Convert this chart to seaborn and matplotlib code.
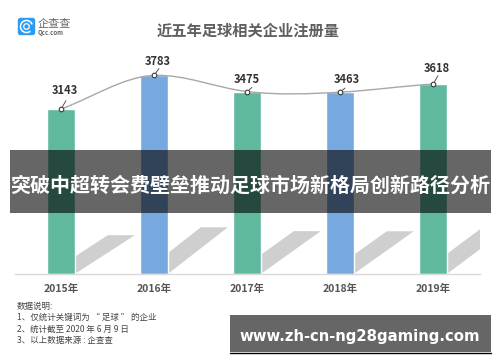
import numpy as np
import pandas as pd
import seaborn as sns
import matplotlib.pyplot as plt
from matplotlib.patches import Arc, Circle, FancyBboxPatch, PathPatch, Polygon, Rectangle
from matplotlib.path import Path

years = ['2015年', '2016年', '2017年', '2018年', '2019年']
counts = [3143, 3783, 3475, 3463, 3618]
bar_colors = ['#60B89E', '#78A8E0', '#60B89E', '#78A8E0', '#60B89E']
# label offset from the point, in pixels
label_dx = [4, 4, 0, 7, 4]
label_dy = [18, 14, 12, 13, 16]
tick_dy = [6, 5, 3, 3, 6]
title = '近五年足球相关企业注册量'
banner = '突破中超转会费壁垒推动足球市场新格局创新路径分析'
site = 'www.zh-cn-ng28gaming.com'
notes = ['数据说明:', '1、仅统计关键词为 “ 足球 ” 的企业', '2、统计截至 2020 年 6 月 9 日', '3、以上数据来源 : 企查查']
note_y = [306, 317, 329, 341]

sns.set_theme(style='white')
plt.rcParams['font.family'] = ['Noto Sans CJK SC', 'DejaVu Sans']

W, H = 500, 362
fig = plt.figure(figsize=(W / 100, H / 100), dpi=100)
# chart axes: baseline at y=274px, x from 15 to 480px
ax = fig.add_axes([14.6 / W, (H - 274) / H, 465 / W, 214 / H])
df = pd.DataFrame({'year': years, 'count': counts})

# slanted shadows behind the bars, scaled from the values
for i, v in enumerate(counts):
    right = i + 0.147
    ax.add_patch(Polygon([(right, 0), (right, v * 0.105), (right + 0.355, v * 0.235),
                          (right + 0.645, v * 0.235)],
                         closed=True, fc='#CFCFCF', ec='none', zorder=1))

sns.barplot(data=df, x='year', y='count', hue='year', palette=bar_colors, width=0.295,
            saturation=1, legend=False, ax=ax, zorder=2)
ax.set_xlim(-0.5, 4.5)
ax.set_ylim(0, 214 / 0.0525)

# smooth line through the bar tops (natural cubic spline as bezier segments)
xs = np.arange(len(counts), dtype=float)
ys = np.array(counts, dtype=float)
n = len(xs)
A = np.zeros((n, n))
b = np.zeros(n)
A[0, 0] = A[-1, -1] = 2
A[0, 1] = A[-1, -2] = 1
b[0] = 3 * (ys[1] - ys[0])
b[-1] = 3 * (ys[-1] - ys[-2])
for i in range(1, n - 1):
    A[i, i - 1:i + 2] = [1, 4, 1]
    b[i] = 3 * (ys[i + 1] - ys[i - 1])
slopes = np.linalg.solve(A, b) * 0.7
verts = [(xs[0], ys[0])]
codes = [Path.MOVETO]
for i in range(n - 1):
    verts += [(xs[i] + 1 / 3, ys[i] + slopes[i] / 3),
              (xs[i + 1] - 1 / 3, ys[i + 1] - slopes[i + 1] / 3),
              (xs[i + 1], ys[i + 1])]
    codes += [Path.CURVE4] * 3
ax.add_patch(PathPatch(Path(verts, codes), fc='none', ec='#A8A8A8', lw=1, zorder=3))

sns.scatterplot(data=df, x='year', y='count', s=11, color='white', edgecolor='#3A3A3A',
                linewidth=0.8, zorder=5, ax=ax, clip_on=False)

for i, v in enumerate(counts):
    ax.annotate(str(v), xy=(i, v), xytext=(label_dx[i] * 0.72, label_dy[i] * 0.72),
                textcoords='offset points', ha='center', va='center', fontsize=8,
                fontweight='bold', color='#333333', zorder=6)
    ax.annotate('', xy=(i, v), xytext=(3.5, tick_dy[i]), textcoords='offset points',
                arrowprops=dict(arrowstyle='-', color='#3A3A3A', lw=0.6, shrinkA=0, shrinkB=2), zorder=4)

ax.set_xlabel('')
ax.set_ylabel('')
ax.set_yticks([])
ax.tick_params(axis='x', length=0, pad=7, labelsize=7.5, labelcolor='#555555')
for label in ax.get_xticklabels():
    label.set_fontweight('bold')
sns.despine(ax=ax, left=True)
ax.spines['bottom'].set_color('#DADADA')
ax.spines['bottom'].set_linewidth(1)

# overlay in pixel coordinates for logo, title, notes and banners
top = fig.add_axes([0, 0, 1, 1], zorder=10)
top.set_xlim(0, W)
top.set_ylim(H, 0)
top.axis('off')

top.text(248.5, 30.5, title, ha='center', va='center', fontsize=11, fontweight='bold', color='#5F5F5F')

# logo
top.add_patch(FancyBboxPatch((18.5, 18.5), 16, 16, boxstyle='round,pad=0,rounding_size=2', fc='#2F9BF0',
                             ec='#2F9BF0', lw=1))
top.add_patch(Arc((26.5, 26.5), 12, 12, theta1=50, theta2=340, ec='white', lw=1.1))
top.add_patch(Circle((26.5, 26.5), 2.8, fc='none', ec='white', lw=0.9))
top.text(38, 23.5, '企查查', ha='left', va='center', fontsize=8, color='#666666')
top.text(38, 32.5, 'Qcc.com', ha='left', va='center', fontsize=4.4, color='#666666', fontweight='bold')

for y, line in zip(note_y, notes):
    top.text(17, y, line, ha='left', va='center', fontsize=6.1, color='#444444')

top.add_patch(Rectangle((10, 150), 481, 63, fc='black', alpha=0.6, ec='none'))
top.text(250.5, 185.5, banner, ha='center', va='center', fontsize=14.4, fontweight='bold', color='white')

top.add_patch(Rectangle((230, 315), 261, 37, fc='#666666', ec='none'))
top.plot([230, 491], [352.5, 352.5], color='black', lw=1)
top.text(359.5, 336.5, site, ha='center', va='center', fontsize=10.7, fontweight='bold', color='white',
         family='DejaVu Sans')

fig.savefig('out.png', dpi=100)
